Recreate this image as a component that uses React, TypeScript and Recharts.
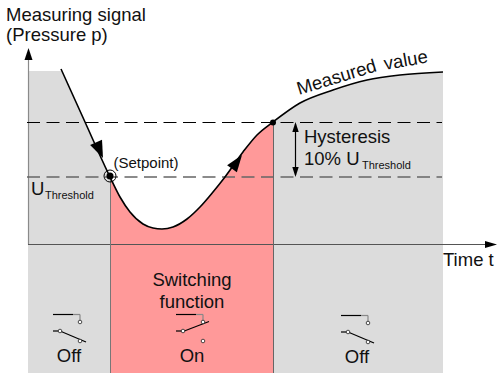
import { ComposedChart, Area, Line, XAxis, YAxis, ReferenceLine, ReferenceDot } from 'recharts'

const WIDTH = 497
const HEIGHT = 373

// data units: time t and signal, origin on the axis crossing
const curveTime = [33, 57, 82, 92, 102, 115, 125, 134, 145, 159, 172, 185, 197, 215, 229, 245, 272, 305, 339, 372, 415]
const curveValue = [175, 122, 67, 47, 32, 20, 16, 15, 17, 25, 37, 52, 67, 92, 109, 122, 141, 154, 164, 169, 172]

const fillStart = 0
const fillTop = 173
const setpointTime = 82
const resetTime = 245
const lowerThreshold = 67
const upperThreshold = 121.5
const endTime = 414
const tMin = -28
const tMax = 469
const vMin = -129
const vMax = 244

const rows = [
  { t: fillStart, off1: fillTop },
  ...curveTime.map((t, i) => {
    const v = curveValue[i]
    return {
      t,
      signal: v,
      off1: t <= setpointTime ? Math.min(v, fillTop) : undefined,
      on: t >= setpointTime && t <= resetTime ? v : undefined,
      off2: t >= resetTime ? v : undefined,
    }
  }),
]

// picture position -> chart value, only for the annotations
const dx = (px: number) => px + tMin
const dy = (py: number) => vMax - py

const INK = '#111'
const FONT = '"Liberation Sans", Arial, sans-serif'

function Label({ px, py, children, size = 18.5, anchor = 'start', rotate = 0 }: any) {
  return (
    <ReferenceDot
      x={dx(px)}
      y={dy(py)}
      r={0}
      shape={(p: any) => (
        <text
          x={p.cx}
          y={p.cy}
          fontSize={size}
          fontFamily={FONT}
          fill={INK}
          textAnchor={anchor}
          transform={rotate ? `rotate(${rotate} ${p.cx} ${p.cy})` : undefined}
        >
          {children}
        </text>
      )}
    />
  )
}

function Head({ px, py, angle, len = 11, half = 4 }: any) {
  return (
    <ReferenceDot
      x={dx(px)}
      y={dy(py)}
      r={0}
      shape={(p: any) => (
        <polygon
          points={`0,0 ${-len},${-half} ${-len},${half}`}
          fill="#000"
          transform={`translate(${p.cx} ${p.cy}) rotate(${angle})`}
        />
      )}
    />
  )
}

function Seg({ x1, y1, x2, y2, color = '#000', w = 1.2 }: any) {
  return (
    <ReferenceLine
      segment={[
        { x: dx(x1), y: dy(y1) },
        { x: dx(x2), y: dy(y2) },
      ]}
      stroke={color}
      strokeWidth={w}
    />
  )
}

function Pin({ px, py }: any) {
  return <ReferenceDot x={dx(px)} y={dy(py)} r={1.8} fill="#fff" stroke="#222" strokeWidth={0.8} />
}

function SwitchIcon({ ox, oy, closed }: any) {
  return (
    <>
      <Seg x1={ox + 53} y1={oy + 314.5} x2={ox + 73} y2={oy + 314.5} />
      <Seg x1={ox + 73} y1={oy + 314.5} x2={ox + 80} y2={oy + 314.5} color="#888" />
      <Seg x1={ox + 80} y1={oy + 314.5} x2={ox + 80} y2={oy + 322} color="#888" />
      <Seg x1={ox + 53} y1={oy + 331} x2={ox + 60} y2={oy + 331} />
      {closed ? (
        <Seg x1={ox + 60} y1={oy + 331.5} x2={ox + 86} y2={oy + 321.5} />
      ) : (
        <Seg x1={ox + 60} y1={oy + 331} x2={ox + 86} y2={oy + 342} />
      )}
      <Pin px={ox + 80} py={oy + 322} />
      <Pin px={ox + 60} py={oy + 331} />
      <Pin px={ox + 80} py={oy + 341} />
    </>
  )
}

export default function App() {
  return (
    <div style={{ position: 'absolute', left: 0, top: 0, width: WIDTH, height: HEIGHT, background: '#fff' }}>
      <ComposedChart width={WIDTH} height={HEIGHT} data={rows} margin={{ top: 0, right: 0, bottom: 0, left: 0 }}>
        <XAxis type="number" dataKey="t" domain={[tMin, tMax]} hide />
        <YAxis type="number" domain={[vMin, vMax]} hide width={0} />

        <Area dataKey="off1" type="linear" baseValue={vMin} fill="#dcdcdc" fillOpacity={1} stroke="none" activeDot={false} isAnimationActive={false} />
        <Area dataKey="on" type="monotone" baseValue={vMin} fill="#ff9999" fillOpacity={1} stroke="none" activeDot={false} isAnimationActive={false} />
        <Area dataKey="off2" type="monotone" baseValue={vMin} fill="#dcdcdc" fillOpacity={1} stroke="none" activeDot={false} isAnimationActive={false} />

        {/* the axes are drawn by hand since they carry arrows, not ticks */}
        <ReferenceLine segment={[{ x: 0.5, y: -0.5 }, { x: 0.5, y: 184 }]} stroke="#8a8a8a" strokeWidth={1.2} />
        <ReferenceLine segment={[{ x: 0, y: -0.5 }, { x: 460, y: -0.5 }]} stroke="#555" strokeWidth={1} />
        <ReferenceLine segment={[{ x: setpointTime + 0.5, y: vMin }, { x: setpointTime + 0.5, y: lowerThreshold }]} stroke="#777" strokeWidth={1} />
        <ReferenceLine segment={[{ x: resetTime + 0.5, y: vMin }, { x: resetTime + 0.5, y: upperThreshold }]} stroke="#666" strokeWidth={1} />

        <ReferenceLine segment={[{ x: -1, y: upperThreshold }, { x: endTime, y: upperThreshold }]} stroke="#000" strokeWidth={1} strokeDasharray="13 6.5" />
        <ReferenceLine segment={[{ x: -1, y: lowerThreshold }, { x: endTime, y: lowerThreshold }]} stroke="#666" strokeWidth={1.3} strokeDasharray="13 6.5" />

        <Line dataKey="signal" type="monotone" stroke="#000" strokeWidth={1.6} dot={false} activeDot={false} connectNulls isAnimationActive={false} />

        {Head({ px: 28.5, py: 48, angle: -90, len: 12, half: 4 })}
        {Head({ px: 497, py: 244.5, angle: 0, len: 12, half: 3.5 })}
        {Head({ px: 103, py: 158, angle: 66, len: 17, half: 6.5 })}
        {Head({ px: 242, py: 155, angle: -54, len: 17, half: 6 })}
        {Seg({ x1: 295.5, y1: 124, x2: 295.5, y2: 175, w: 1.2 })}
        {Head({ px: 295.5, py: 122, angle: -90, len: 10, half: 3.2 })}
        {Head({ px: 295.5, py: 177, angle: 90, len: 10, half: 3.2 })}

        <ReferenceDot x={setpointTime} y={lowerThreshold + 1} r={6} fill="none" stroke="#000" strokeWidth={1} />
        <ReferenceDot x={setpointTime} y={lowerThreshold + 1} r={3.5} fill="#000" stroke="none" />
        <ReferenceDot x={resetTime} y={upperThreshold} r={3} fill="#000" stroke="none" />

        {Label({ px: 6, py: 21, children: 'Measuring signal' })}
        {Label({ px: 6, py: 41, children: '(Pressure p)' })}
        {Label({ px: 113.5, py: 168, size: 15, children: '(Setpoint)' })}
        {Label({ px: 31, py: 195, children: 'U' })}
        {Label({ px: 45, py: 199, size: 11, children: 'Threshold' })}
        {Label({ px: 304, py: 143, children: 'Hysteresis' })}
        {Label({ px: 304, py: 165, children: '10% U' })}
        {Label({ px: 362, py: 169, size: 11, children: 'Threshold' })}
        {Label({ px: 443, py: 266, children: 'Time t' })}
        {Label({ px: 299, py: 95, rotate: -17, children: 'Measured' })}
        {Label({ px: 385, py: 70, rotate: -10, children: 'value' })}
        {Label({ px: 192, py: 286, anchor: 'middle', children: 'Switching' })}
        {Label({ px: 192, py: 308, anchor: 'middle', children: 'function' })}
        {Label({ px: 69, py: 362, anchor: 'middle', children: 'Off' })}
        {Label({ px: 192, py: 362, anchor: 'middle', children: 'On' })}
        {Label({ px: 357, py: 363, anchor: 'middle', children: 'Off' })}

        {SwitchIcon({ ox: 0, oy: 0, closed: false })}
        {SwitchIcon({ ox: 123, oy: 0, closed: true })}
        {SwitchIcon({ ox: 288, oy: 1, closed: false })}
      </ComposedChart>
    </div>
  )
}
